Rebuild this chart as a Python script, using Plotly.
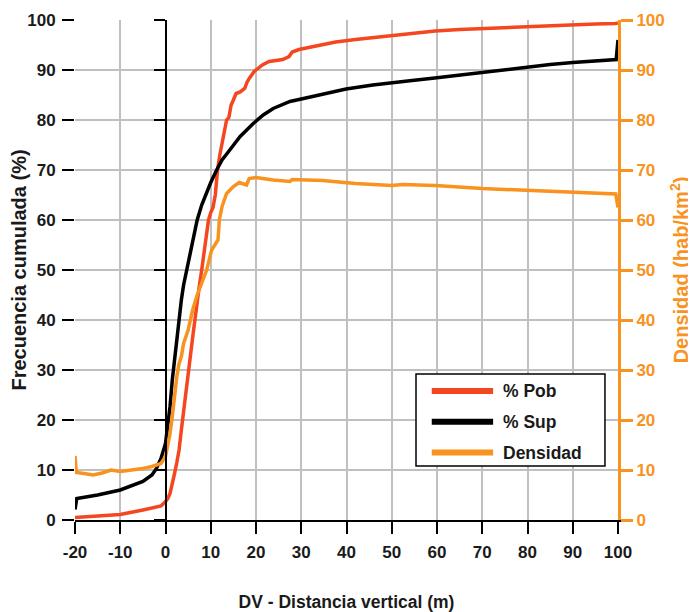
import plotly.graph_objects as go

# ---- data ----
dv_pob = [-20, -15, -10, -5, -2, -1, 0, 0.5, 1, 1.5, 2, 2.5, 3, 3.5, 4, 4.5, 5, 5.5, 6, 6.5, 7, 7.5, 8, 8.5, 9,
          9.3, 9.5, 10, 10.5, 11, 11.5, 12, 12.5, 13, 13.5, 14, 14.5, 15, 15.6, 16.5, 17.5, 18, 18.5, 19.6, 21.4,
          22.9, 25.9, 27.3, 28, 29.5, 32, 34.7, 37.6, 42, 46, 50, 52.3, 56, 59.6, 65, 70, 80, 90, 95, 99.5, 100]
pob = [0.5, 0.8, 1.1, 2.0, 2.5, 2.8, 3.7, 4.3, 5.3, 7.0, 9.3, 11.5, 14, 18, 22, 26, 29.5, 33, 36.5, 40, 44, 47, 50,
       53, 56, 58.5, 60, 61.5, 62.5, 65, 70, 73, 75.5, 78, 80, 80.5, 83, 84, 85.3, 85.6, 86.3, 87.5, 88.3, 89.7,
       91, 91.7, 92.1, 92.7, 93.6, 94.1, 94.6, 95, 95.6, 96.1, 96.5, 96.8, 97.2, 97.5, 97.8, 98.1, 98.3, 98.7,
       99.0, 99.2, 99.3, 99.4]

dv_sup = [-20, -19.6, -15, -10, -5, -3, -2, -1, 0, 0.5, 1, 1.5, 2, 2.5, 3, 3.5, 4, 4.7, 5.5, 6.2, 7, 8, 8.7, 10,
          11.3, 12.5, 14.2, 16.5, 19.4, 21.6, 23.8, 25.7, 27.5, 31, 34.7, 39.9, 45.8, 50, 54.5, 59.5, 65, 70, 75,
          80, 85, 90, 95, 99.6, 100]
sup = [2.1, 4.3, 5.0, 6.0, 7.7, 9.0, 10.3, 12.3, 15.3, 18.7, 22.7, 28, 32, 36.7, 40.7, 44, 47, 50, 53.5, 56, 60,
       63, 64.7, 67.5, 70, 72, 74, 76.7, 79.3, 81, 82.3, 83.1, 83.7, 84.4, 85.1, 86.2, 87, 87.5, 87.9, 88.4, 89,
       89.5, 90.1, 90.6, 91.1, 91.5, 91.8, 92.1, 96.0]

dv_den = [-20, -19.7, -18, -16, -14, -12, -10, -7, -5, -3, -2, -1, 0, 0.5, 1, 1.5, 2, 2.5, 3, 3.5, 4, 5, 5.5, 6,
          7, 8, 9.1, 10.2, 11.6, 11.9, 12.5, 13.5, 15, 16.3, 17.9, 18.5, 20, 23.8, 27.5, 28, 34.7, 42, 50, 52.3,
          59.6, 70, 80, 90, 99.5, 100]
den = [12.8, 9.5, 9.3, 9.0, 9.4, 10.0, 9.7, 10.0, 10.3, 10.7, 11.0, 11.3, 12.7, 14.7, 17.3, 20.7, 25.3, 28.7,
       31.3, 32.7, 35.3, 38, 40, 42, 45, 47.5, 50, 54, 56, 60, 62.7, 65.3, 66.7, 67.5, 67.0, 68.3, 68.5, 68,
       67.7, 68.1, 67.9, 67.3, 66.9, 67.1, 66.9, 66.3, 65.9, 65.5, 65.2, 62.5]

x_ticks = list(range(-20, 101, 10))
x_labels = [str(v) for v in x_ticks]  # plain hyphen minus, as in the reference
y_ticks = list(range(0, 101, 10))
names = ["% Pob", "% Sup", "Densidad"]

FONT = "Liberation Sans, Arial, sans-serif"
ORANGE = "#F7931E"
RED = "#F5471F"
GRID = "#C0C0C0"
TXT = "#1a1a1a"
colors = [RED, "black", ORANGE]

fig = go.Figure()
fig.add_trace(go.Scatter(x=dv_pob, y=pob, name=names[0], mode="lines",
                         line=dict(color=colors[0], width=3.5)))
fig.add_trace(go.Scatter(x=dv_sup, y=sup, name=names[1], mode="lines",
                         line=dict(color=colors[1], width=3.5)))
fig.add_trace(go.Scatter(x=dv_den, y=den, name=names[2], mode="lines", yaxis="y2",
                         line=dict(color=colors[2], width=3.5)))
# invisible trace to activate the zero vertical axis
fig.add_trace(go.Scatter(x=[0], y=[0], yaxis="y3", mode="markers", marker=dict(opacity=0),
                         showlegend=False, hoverinfo="skip"))

fig.add_hline(y=60, line=dict(color=ORANGE, width=1.5), layer="below")

# legend drawn as a box with long line samples
fig.add_shape(type="rect", xref="paper", yref="paper", x0=0.628, x1=0.976, y0=0.108, y1=0.292,
              fillcolor="white", line=dict(color="black", width=1.5), layer="above")
for i, (nm, c) in enumerate(zip(names, colors)):
    yy = 0.258 - i * 0.0615
    fig.add_shape(type="line", xref="paper", yref="paper", x0=0.657, x1=0.770, y0=yy, y1=yy,
                  line=dict(color=c, width=6), layer="above")
    fig.add_annotation(xref="paper", yref="paper", x=0.784, y=yy, text=nm, showarrow=False,
                       xanchor="left", yanchor="middle",
                       font=dict(size=17.5, color=TXT, weight="bold"))

fig.update_layout(
    width=688, height=604,
    margin=dict(l=67, r=78, t=12, b=92),
    paper_bgcolor="white", plot_bgcolor="white",
    font=dict(family=FONT, size=17, color=TXT, weight="bold"),
    showlegend=False,
    xaxis=dict(range=[-20, 100], tickvals=x_ticks, ticktext=x_labels, showgrid=True, gridcolor=GRID,
               gridwidth=2, zeroline=False, showline=True, linecolor="black", linewidth=2,
               ticks="outside", ticklen=12, tickwidth=2, tickcolor="black", automargin=False,
               ticklabelstandoff=4,
               title=dict(text="DV - Distancia vertical (m)", standoff=34,
                          font=dict(size=17.5, weight="bold")),
               tickfont=dict(size=17, weight="bold")),
    yaxis=dict(range=[0, 100], tickvals=y_ticks, showgrid=True, gridcolor=GRID, gridwidth=2,
               zeroline=False, showline=False, ticks="outside", ticklen=12, tickwidth=2,
               tickcolor="black", automargin=False, ticklabelstandoff=3,
               title=dict(text="Frecuencia cumulada (%)", standoff=6, font=dict(size=20, weight="bold")),
               tickfont=dict(size=17, weight="bold")),
    yaxis2=dict(range=[0, 100], tickvals=y_ticks, overlaying="y", side="right", showgrid=False,
                zeroline=False, showline=True, linecolor=ORANGE, linewidth=3, automargin=False,
                ticks="outside", ticklen=12, tickwidth=3, tickcolor=ORANGE,
                tickfont=dict(size=17, color=ORANGE, weight="bold"),
                title=dict(text="Densidad (hab/km<sup>2</sup>)", standoff=11,
                           font=dict(size=20, color=ORANGE, weight="bold"))),
    yaxis3=dict(range=[0, 100], tickvals=y_ticks, overlaying="y", anchor="free", position=20 / 120,
                side="left", showgrid=False, zeroline=False, showline=True, linecolor="black",
                linewidth=2, ticks="outside", ticklen=11, tickwidth=2, tickcolor="black",
                showticklabels=False, automargin=False),
)

fig.write_html("out.html")
